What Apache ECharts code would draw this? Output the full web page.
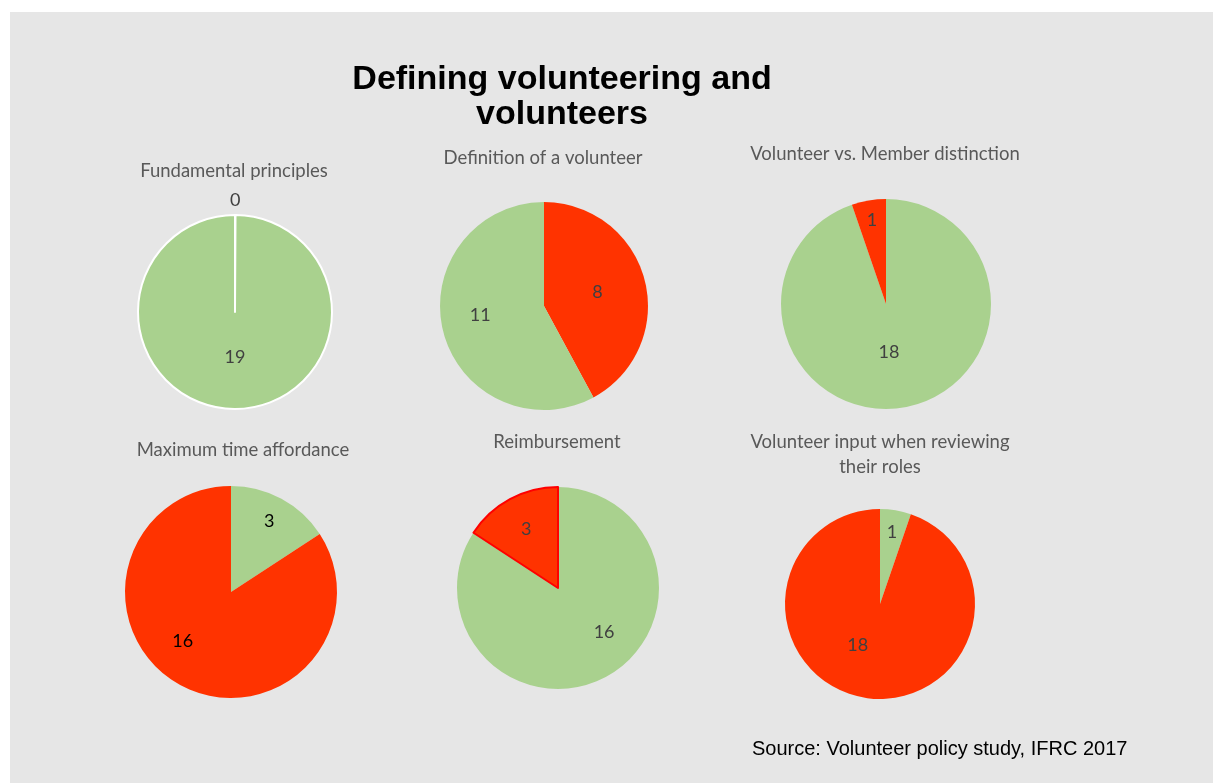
<!DOCTYPE html>
<html>
<head>
<meta charset="utf-8">
<title>Defining volunteering and volunteers</title>
<script src="https://cdn.jsdelivr.net/npm/echarts@6/dist/echarts.min.js"></script>
<style>
  html, body { margin: 0; padding: 0; background: #ffffff; }
  #chart { position: absolute; left: 10px; top: 12px; width: 1203px; height: 771px; }
</style>
</head>
<body>
<div id="chart"></div>
<script>
// values: green = yes, red = no
const pieTitles = [
  'Fundamental principles',
  'Definition of a volunteer',
  'Volunteer vs. Member distinction',
  'Maximum time affordance',
  'Reimbursement',
  'Volunteer input when reviewing\ntheir roles'
]
const yesValues = [19, 11, 18, 3, 16, 1]
const noValues = [0, 8, 1, 16, 3, 18]
// which slice starts at twelve o'clock
const sliceOrder = [
  ['no', 'yes'],
  ['no', 'yes'],
  ['yes', 'no'],
  ['yes', 'no'],
  ['yes', 'no'],
  ['yes', 'no']
]

// layout (chart coordinates), tx/ty = title anchor
const pieLayout = [
  { cx: 225, cy: 300, r: 97, tx: 219, ty: 142 },
  { cx: 534, cy: 294, r: 104, tx: 528, ty: 129 },
  { cx: 876, cy: 292, r: 105, tx: 870, ty: 125 },
  { cx: 221, cy: 580, r: 106, tx: 228, ty: 421 },
  { cx: 548, cy: 576, r: 101, tx: 542, ty: 413 },
  { cx: 870, cy: 592, r: 95, tx: 865, ty: 413 }
]
// label placement: radius fraction and angle nudge (deg)
const labelFrac = {
  yes: [0.47, 0.62, 0.46, 0.76, 0.63, 0.77],
  no: [1.15, 0.53, 0.81, 0.65, 0.66, 0.49]
}
const labelNudge = {
  yes: [0, 6, 6, 0, -18, 0],
  no: [0, 0, 0, 16, 0, 19]
}
const labelColor = ['#404040', '#404040', '#404040', '#000000', '#404040', '#404040']

const GREEN = '#A9D18E'
const RED = '#FF3300'

const chart = echarts.init(document.getElementById('chart'))

const titles = [
  {
    text: 'Defining volunteering and\nvolunteers',
    left: 547,
    top: 45,
    textAlign: 'center',
    textStyle: {
      fontFamily: 'Liberation Sans',
      fontSize: 34,
      fontWeight: 'bold',
      color: '#000000',
      lineHeight: 35
    }
  },
  {
    text: 'Source: Volunteer policy study, IFRC 2017',
    left: 737,
    top: 722,
    textStyle: {
      fontFamily: 'Liberation Sans',
      fontSize: 20,
      fontWeight: 'normal',
      color: '#000000'
    }
  }
]

const series = []

pieTitles.forEach((name, i) => {
  const L = pieLayout[i]
  titles.push({
    text: name,
    left: L.tx,
    top: L.ty,
    textAlign: 'center',
    textStyle: {
      fontFamily: 'Lato',
      fontSize: 18.5,
      fontWeight: 'normal',
      color: '#595959',
      lineHeight: 25
    }
  })

  const order = sliceOrder[i]
  const data = order.map(key => {
    const item = {
      name: key,
      value: key === 'yes' ? yesValues[i] : noValues[i],
      itemStyle: { color: key === 'yes' ? GREEN : RED }
    }
    if (i === 0) {
      item.itemStyle.borderColor = '#ffffff'
      item.itemStyle.borderWidth = 2
    }
    if (i === 4 && key === 'no') {
      item.itemStyle.borderColor = '#FF0000'
      item.itemStyle.borderWidth = 2
    }
    return item
  })

  series.push({
    type: 'pie',
    center: [L.cx, L.cy],
    radius: [0, L.r],
    startAngle: 90,
    clockwise: true,
    // lets the empty slice show as a thin white spoke
    minAngle: i === 0 ? 0.3 : 0,
    silent: true,
    animation: false,
    avoidLabelOverlap: false,
    label: {
      show: true,
      position: 'inside',
      formatter: '{c}',
      fontFamily: 'Lato',
      fontSize: 18,
      color: labelColor[i]
    },
    labelLine: { show: false },
    labelLayout: params => {
      const key = order[params.dataIndex]
      const rect = params.labelRect
      const lx = rect.x + rect.width / 2
      const ly = rect.y + rect.height / 2
      const vx = lx - L.cx
      const vy = ly - L.cy
      const a = Math.atan2(vx, -vy) + labelNudge[key][i] * Math.PI / 180
      const target = labelFrac[key][i] * L.r
      const nx = L.cx + target * Math.sin(a)
      const ny = L.cy - target * Math.cos(a)
      return { dx: nx - lx, dy: ny - ly }
    },
    data: data
  })
})

chart.setOption({
  backgroundColor: '#E6E6E6',
  title: titles,
  series: series
})

window.addEventListener('resize', () => chart.resize())
</script>
</body>
</html>
